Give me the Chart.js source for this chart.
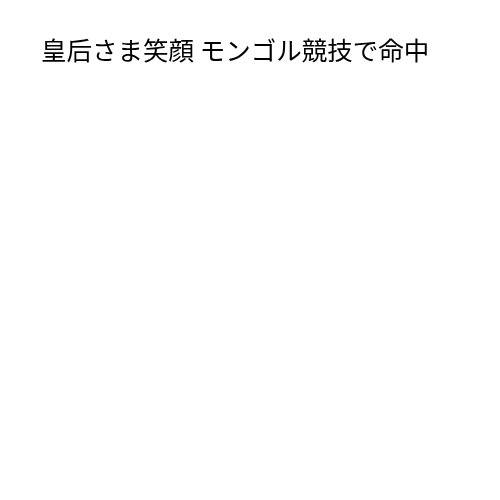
<!DOCTYPE html>
<html>
<head>
<meta charset="utf-8">
<script src="https://cdn.jsdelivr.net/npm/chart.js@4"></script>
<style>
  html, body { margin: 0; padding: 0; background: #fff; }
  #wrap { width: 500px; height: 500px; }
</style>
</head>
<body>
<div id="wrap"><canvas id="myChart"></canvas></div>
<script>
// the chart has only a title, no marks
const labels = [];
const values = [];
const titleText = "皇后さま笑顔 モンゴル競技で命中";

const data = {
  labels: labels,
  datasets: [{ data: values }]
};

const config = {
  type: "line",
  data: data,
  options: {
    responsive: true,
    maintainAspectRatio: false,
    animation: false,
    layout: { padding: { left: 41, top: 35 } },
    scales: {
      x: { display: false },
      y: { display: false }
    },
    plugins: {
      legend: { display: false },
      tooltip: { enabled: false },
      title: {
        display: true,
        text: titleText,
        align: "start",
        color: "#000",
        padding: { top: 0, bottom: 10 },
        font: { family: "'Noto Sans CJK JP'", size: 25.5, weight: "normal" }
      }
    }
  }
};

const ctx = document.getElementById("myChart");
new Chart(ctx, config);
</script>
</body>
</html>
